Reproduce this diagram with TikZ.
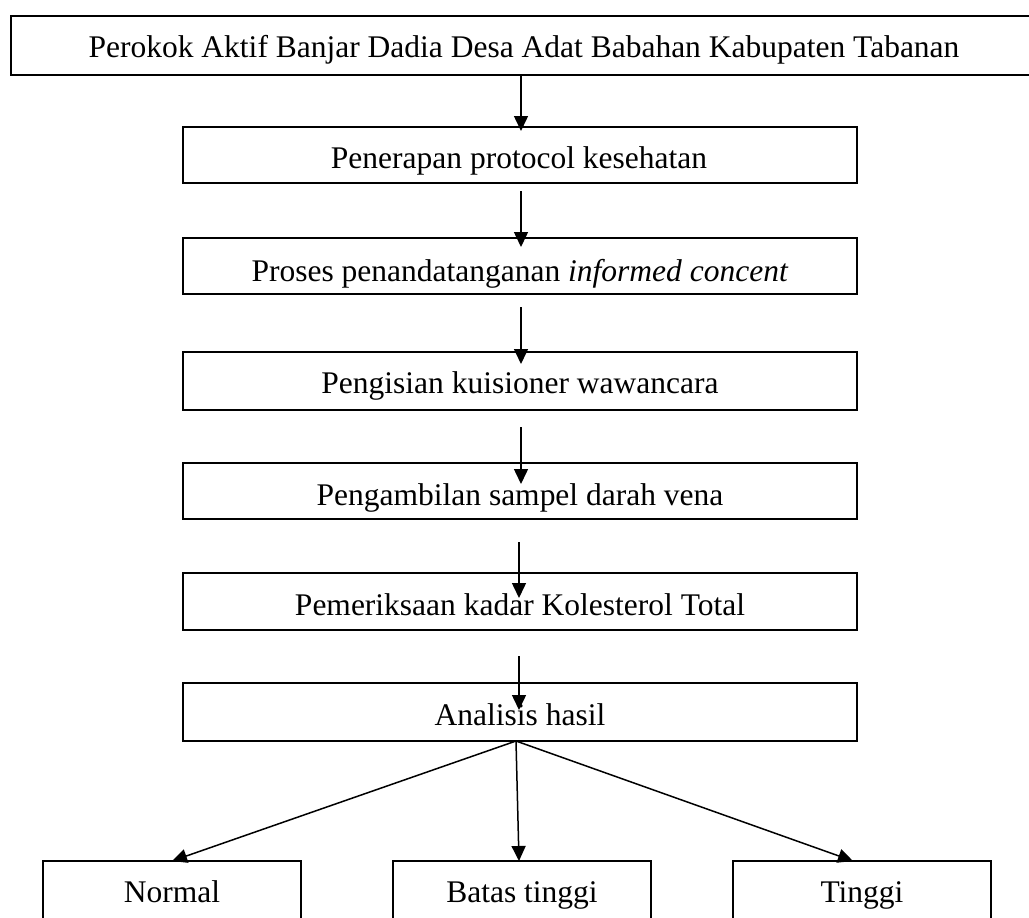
\documentclass[tikz,border=0pt]{standalone}
\usepackage{fontspec}
\setmainfont{Liberation Serif}
\usetikzlibrary{arrows.meta,calc}
\begin{document}
\begin{tikzpicture}[x=1pt,y=-1pt,
  box/.style={draw, line width=1.5pt, rectangle, inner sep=0pt, outer sep=0pt},
  mainbox/.style={box, minimum width=674pt},
  resbox/.style={box, minimum width=258pt, minimum height=80pt},
  lbl/.style={anchor=base, inner sep=0pt, font=\fontsize{31.5}{38}\selectfont},
  arr/.style={line width=1.5pt, -{Triangle[length=15pt,width=14pt]}}]
\useasboundingbox (0,0) rectangle (1029,918);
\clip (0,0) rectangle (1029,918);
% boxes
\node[box, minimum width=1026pt, minimum height=59pt] (b1) at (523.9,45.5) {};
\node[mainbox, minimum height=56pt] (b2) at (520,155) {};
\node[mainbox, minimum height=56pt] (b3) at (520,266) {};
\node[mainbox, minimum height=58pt] (b4) at (520,381) {};
\node[mainbox, minimum height=56pt] (b5) at (520,491) {};
\node[mainbox, minimum height=57pt] (b6) at (520,601.5) {};
\node[mainbox, minimum height=58pt] (b7) at (520,712) {};
\node[resbox] (n1) at (172,901) {};
\node[resbox] (n2) at (522,901) {};
\node[resbox] (n3) at (862,901) {};
% texts
\node[lbl] (t1) at (524,57) {Perokok Aktif Banjar Dadia Desa Adat Babahan Kabupaten Tabanan};
\node[lbl] (t2) at (519,168) {Penerapan protocol kesehatan};
\node[lbl] (t3) at (520,281) {Proses penandatanganan \textit{informed concent}};
\node[lbl] (t4) at (520,393) {Pengisian kuisioner wawancara};
\node[lbl] (t5) at (520,505) {Pengambilan sampel darah vena};
\node[lbl] (t6) at (520,615) {Pemeriksaan kadar Kolesterol Total};
\node[lbl] (t7) at (520,725) {Analisis hasil};
\node[lbl] (tn1) at (172,902) {Normal};
\node[lbl] (tn2) at (522,902) {Batas tinggi};
\node[lbl] (tn3) at (862,902) {Tinggi};
% arrows
\draw[arr] (b1.south -| 521,0) -- ($(b2.north -| 521,0)+(0,4)$);
\draw[arr] ($(b2.south -| 521,0)+(0,8)$) -- ($(b3.north -| 521,0)+(0,9)$);
\draw[arr] ($(b3.south -| 521,0)+(0,13)$) -- ($(b4.north -| 521,0)+(0,12)$);
\draw[arr] ($(b4.south -| 521,0)+(0,17)$) -- ($(b5.north -| 521,0)+(0,21)$);
\draw[arr] ($(b5.south -| 519,0)+(0,23)$) -- ($(b6.north -| 519,0)+(0,25)$);
\draw[arr] ($(b6.south -| 519,0)+(0,26)$) -- ($(b7.north -| 519,0)+(0,27)$);
\coordinate (split) at (b7.south -| 516,0);
\draw[arr] (split) -- (n1.north);
\draw[arr] (split) -- (n2.north -| 519,0);
\draw[arr] (split) -- (n3.north -| 853,0);
\end{tikzpicture}
\end{document}
